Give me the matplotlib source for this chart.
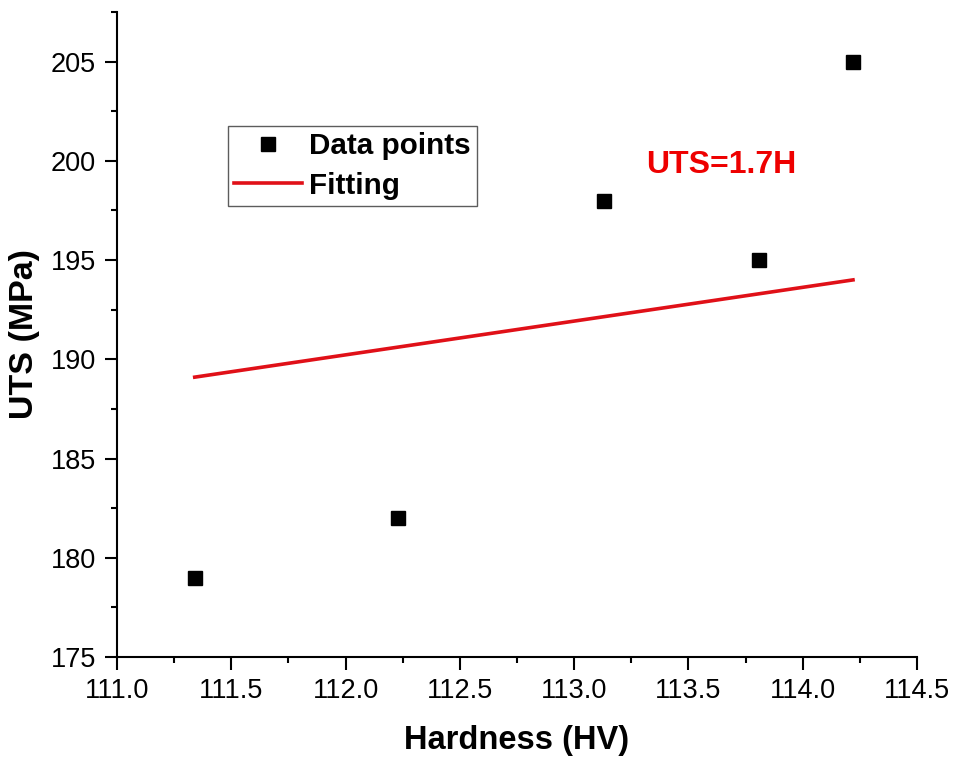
import matplotlib.pyplot as plt
from matplotlib.ticker import MultipleLocator

# hardness (HV) vs UTS (MPa)
hardness = [111.34, 112.23, 113.13, 113.81, 114.22]
uts = [179.0, 182.0, 198.0, 195.0, 205.0]

# fitted line UTS=1.7H, read at both ends
fit_x = [111.34, 114.22]
fit_y = [189.1, 194.0]

plt.rcParams['font.family'] = ['Liberation Sans', 'DejaVu Sans']

fig = plt.figure(figsize=(9.56, 7.62), dpi=100)
ax = fig.add_axes([0.1224, 0.1378, 0.8368, 0.8465])

ax.plot(hardness, uts, linestyle='none', marker='s', markersize=10,
        color='black', label='Data points')
ax.plot(fit_x, fit_y, color='#e01018', linewidth=2.6, label='Fitting')

ax.text(113.645, 199.8, 'UTS=1.7H', color='#ee0000', fontsize=23,
        fontweight='bold', ha='center', va='center')

ax.set_xlim(111.0, 114.5)
ax.set_ylim(175, 207.5)
ax.xaxis.set_major_locator(MultipleLocator(0.5))
ax.xaxis.set_minor_locator(MultipleLocator(0.25))
ax.yaxis.set_major_locator(MultipleLocator(5))
ax.yaxis.set_minor_locator(MultipleLocator(2.5))
ax.xaxis.set_major_formatter(plt.FormatStrFormatter('%.1f'))

for side in ['top', 'right']:
    ax.spines[side].set_visible(False)
for side in ['left', 'bottom']:
    ax.spines[side].set_linewidth(1.5)

ax.tick_params(which='major', direction='out', length=9, width=1.5,
               labelsize=19.5, pad=6)
ax.tick_params(which='minor', direction='out', length=4.5, width=1.5)

ax.set_xlabel('Hardness (HV)', fontsize=23.5, fontweight='bold', labelpad=15)
ax.set_ylabel('UTS (MPa)', fontsize=24.5, fontweight='bold', labelpad=8)

leg = ax.legend(loc='upper left', bbox_to_anchor=(228 / 956, 1 - 126 / 762),
                bbox_transform=fig.transFigure, borderaxespad=0,
                prop={'weight': 'bold', 'size': 21.3}, frameon=True,
                fancybox=False, borderpad=0.2, handlelength=2.3,
                handletextpad=0.25, labelspacing=0.4)
leg.get_frame().set_edgecolor('#333333')
leg.get_frame().set_linewidth(1.0)

fig.savefig('out.png', dpi=100)
